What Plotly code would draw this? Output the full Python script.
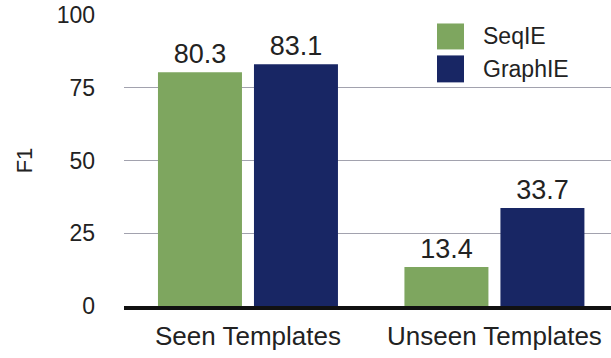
import plotly.graph_objects as go

categories = ["Seen Templates", "Unseen Templates"]
seqie = [80.3, 13.4]
graphie = [83.1, 33.7]
series_names = ["SeqIE", "GraphIE"]
colors = ["#7ea65f", "#182664"]
y_ticks = [0, 25, 50, 75, 100]

FONT = "Liberation Sans, Arial, Helvetica, sans-serif"

fig = go.Figure()
for name, vals, col in zip(series_names, [seqie, graphie], colors):
    fig.add_trace(go.Bar(
        x=categories, y=vals, name=name,
        marker=dict(color=col, line=dict(width=0)),
        text=[f"{v:.1f}" for v in vals],
        textposition="outside",
        textfont=dict(size=27, color="#222222", family=FONT),
        cliponaxis=False,
        showlegend=False,
    ))

# Manual legend (large square swatches)
H = 291.5
def py(p):
    return (306 - p) / H

leg_y = [(py(49), py(23)), (py(82), py(55))]
for (y0, y1), col, name in zip(leg_y, colors, series_names):
    fig.add_shape(type="rect", xref="paper", yref="paper",
                  x0=0.6427, x1=0.6982, y0=y0, y1=y1,
                  fillcolor=col, line=dict(width=0))
    fig.add_annotation(xref="paper", yref="paper", x=0.734, y=(y0 + y1) / 2,
                       text=name, showarrow=False, xanchor="left", yanchor="middle",
                       font=dict(size=23, color="#222222", family=FONT))

fig.update_layout(
    width=611, height=358,
    margin=dict(l=124, r=0, t=14.5, b=52),
    paper_bgcolor="white", plot_bgcolor="white",
    barmode="group", bargap=0.221, bargroupgap=0.125,
    font=dict(family=FONT, color="#222222"),
    showlegend=False,
)
fig.update_xaxes(
    type="category", range=[-0.503, 1.473],
    showgrid=False, showline=True, linecolor="#111111", linewidth=4,
    ticks="",
    tickfont=dict(size=26, color="#222222"),
    ticklabelstandoff=4,
)
fig.update_yaxes(
    range=[0, 100], tickvals=y_ticks,
    showgrid=True, gridcolor="#a2a2ae", gridwidth=1,
    zeroline=False, showline=False, ticks="",
    tickfont=dict(size=23, color="#222222"),
    ticklabelstandoff=28,
    title=dict(text="F1", font=dict(size=22, color="#222222"), standoff=17),
)

fig.write_html("out.html")
